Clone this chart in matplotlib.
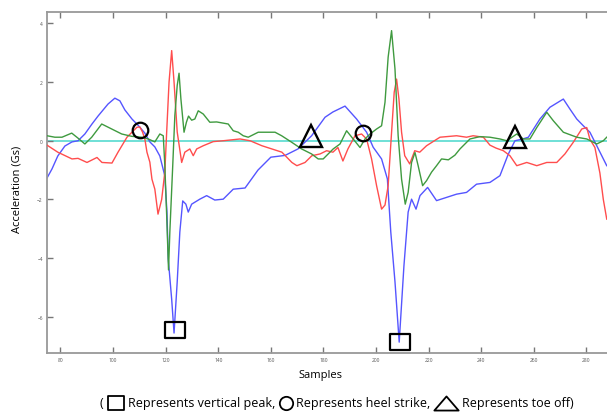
import matplotlib
matplotlib.use("Agg")
import matplotlib.pyplot as plt
from matplotlib.lines import Line2D
from matplotlib.path import Path

plt.rcParams['font.family'] = ['Open Sans', 'DejaVu Sans']

# samples / accelerations (three axes + zero line)
blue_x = [74.9, 76.8, 79.0, 81.7, 84.4, 86.7, 89.3, 92.0, 94.3, 98.1, 100.7, 102.6, 104.5,
          107.2, 109.5, 112.1, 114.0, 115.9, 117.8, 119.7, 120.5, 121.0, 122.3, 123.2, 124.4,
          125.4, 126.5, 127.7, 128.6, 129.9, 133.0, 135.6, 138.7, 141.9, 145.7, 150.2, 155.1,
          160.0, 165.4, 170.3, 175.5, 180.6, 183.6, 188.2, 192.6, 196.4, 198.9, 202.1, 204.3,
          205.6, 207.2, 208.8, 210.6, 212.2, 213.5, 215.2, 216.7, 219.6, 223.0, 226.8, 230.6,
          234.4, 238.2, 243.3, 247.1, 250.3, 252.8, 255.4, 257.9, 262.3, 266.1, 271.2, 273.7,
          276.3, 278.8, 281.3, 283.9, 287.7]
blue_y = [-1.27, -0.96, -0.52, -0.18, -0.04, 0.0, 0.23, 0.57, 0.84, 1.25, 1.45, 1.36, 1.05,
          0.74, 0.53, 0.26, -0.04, -0.21, -0.52, -1.20, -2.43, -4.03, -5.40, -6.55, -4.81,
          -3.11, -2.05, -2.16, -2.43, -2.16, -1.99, -1.87, -2.02, -1.99, -1.65, -1.61, -1.00,
          -0.56, -0.50, -0.28, 0.17, 0.80, 0.98, 1.18, 0.74, 0.29, -0.22, -0.62, -1.30,
          -3.11, -4.81, -6.86, -4.26, -2.43, -1.99, -2.33, -1.87, -1.59, -2.04, -1.93, -1.82,
          -1.76, -1.48, -1.42, -1.19, -0.45, 0.0, 0.05, 0.12, 0.74, 1.14, 1.42, 1.08,
          0.74, 0.51, 0.29, -0.17, -0.85]

red_x = [74.9, 79.0, 84.4, 86.7, 90.1, 93.9, 95.8, 99.6, 101.9, 105.3, 109.1, 110.2, 111.2,
         112.1, 112.9, 114.0, 114.8, 115.9, 117.1, 118.5, 119.7, 120.4, 121.3, 122.3, 123.2,
         124.4, 126.1, 127.3, 129.2, 130.5, 131.8, 134.3, 138.1, 141.9, 148.3, 152.1, 156.6,
         160.4, 164.2, 168.0, 169.9, 173.0, 175.6, 178.7, 181.2, 183.6, 185.5, 187.4, 189.3,
         192.0, 194.5, 196.4, 198.3, 200.2, 202.1, 203.4, 204.6, 205.9, 206.9, 207.8, 208.7,
         209.7, 210.9, 212.8, 214.7, 216.6, 219.2, 224.3, 230.6, 234.4, 236.9, 240.8, 243.3,
         245.6, 248.4, 250.9, 253.5, 257.3, 261.1, 264.9, 268.7, 271.8, 275.0, 278.2, 280.1,
         281.3, 283.2, 285.1, 286.4, 287.7]
red_y = [-0.15, -0.39, -0.62, -0.60, -0.74, -0.57, -0.74, -0.76, -0.39, 0.12, 0.46, 0.47, 0.30,
         0.06, -0.39, -0.73, -1.31, -1.65, -2.50, -2.00, -1.06, 0.30, 2.00, 3.07, 2.00,
         0.30, -0.74, -0.39, -0.28, -0.51, -0.28, -0.17, -0.03, 0.0, 0.06, 0.0, -0.17,
         -0.28, -0.39, -0.74, -0.85, -0.74, -0.51, -0.45, -0.34, -0.39, -0.23, -0.69, -0.28,
         0.17, 0.23, 0.06, -0.62, -1.53, -2.33, -2.19, -1.53, 0.29, 1.65, 2.10, 1.42,
         0.29, -0.51, -0.79, -0.34, -0.39, -0.17, 0.12, 0.17, 0.12, 0.17, 0.12, -0.15,
         -0.25, -0.34, -0.51, -0.85, -0.74, -0.85, -0.74, -0.74, -0.45, -0.05, 0.40, 0.45,
         0.05, -0.23, -1.10, -2.00, -2.67]

green_x = [74.9, 77.9, 80.6, 84.3, 86.8, 89.3, 91.9, 95.7, 99.5, 103.3, 107.1, 110.9, 113.4,
           115.9, 117.8, 119.1, 119.7, 120.4, 121.1, 121.6, 122.7, 123.5, 124.4, 125.1, 125.8,
           127.0, 127.9, 128.7, 129.9, 131.1, 132.4, 134.3, 136.8, 139.4, 141.9, 143.8, 145.7,
           147.6, 149.5, 151.4, 155.2, 159.0, 161.6, 164.1, 167.9, 171.7, 175.5, 178.0, 179.9,
           183.7, 186.3, 188.8, 191.3, 193.9, 195.8, 197.7, 200.2, 202.1, 203.4, 204.6, 205.9,
           207.2, 208.4, 209.7, 211.1, 212.2, 213.5, 214.8, 216.0, 217.7, 219.2, 221.1, 223.0,
           224.9, 227.5, 230.0, 231.9, 235.7, 239.5, 243.3, 247.1, 249.7, 253.5, 256.0, 258.5,
           261.1, 264.9, 267.4, 271.2, 276.3, 280.1, 283.9, 286.4, 287.7]
green_y = [0.17, 0.12, 0.12, 0.26, 0.08, -0.11, 0.12, 0.57, 0.40, 0.23, 0.15, 0.12, 0.06,
           -0.04, 0.23, 0.17, -0.85, -2.55, -4.40, -3.11, -0.85, 0.85, 1.88, 2.30, 1.43,
           0.29, 0.63, 0.84, 0.70, 0.74, 1.02, 0.91, 0.63, 0.64, 0.60, 0.57, 0.34,
           0.29, 0.17, 0.12, 0.29, 0.29, 0.29, 0.17, -0.05, -0.28, -0.45, -0.62, -0.62,
           -0.28, -0.11, 0.34, 0.06, -0.23, 0.06, 0.23, 0.40, 0.51, 1.31, 2.85, 3.75,
           2.44, 0.17, -1.31, -2.16, -1.76, -0.74, -0.40, -0.85, -1.53, -1.36, -1.07, -0.85,
           -0.62, -0.65, -0.49, -0.28, 0.06, 0.14, 0.12, 0.06, 0.0, 0.23, 0.06, 0.06,
           0.45, 0.97, 0.68, 0.29, 0.12, 0.06, -0.11, 0.0, 0.12]

zero_x = [74.9, 288.0]
zero_y = [0.0, 0.0]

# event markers
peak_x = [123.5, 209.1]
peak_y = [-6.45, -6.84]
heel_x = [110.2, 195.1]
heel_y = [0.38, 0.25]
toe_x = [175.2, 252.9]
toe_y = [0.17, 0.14]

x_ticks = list(range(80, 300, 20))
y_ticks = [-6, -4, -2, 0, 2, 4]

rect_marker = Path([(-1, -0.84), (1, -0.84), (1, 0.84), (-1, 0.84), (-1, -0.84)],
                   [Path.MOVETO, Path.LINETO, Path.LINETO, Path.LINETO, Path.CLOSEPOLY])
flat_tri = Path([(-1, -0.58), (1, -0.58), (0, 0.58), (-1, -0.58)],
                [Path.MOVETO, Path.LINETO, Path.LINETO, Path.CLOSEPOLY])

W, H = 607, 414
fig = plt.figure(figsize=(W / 100, H / 100), dpi=100)
ax = fig.add_axes([47 / W, 60 / H, 560 / W, 341 / H])

ax.plot(zero_x, zero_y, color="#6fe0d6", lw=1.4, zorder=1)
ax.plot(blue_x, blue_y, color="#5555ff", lw=1.0, zorder=2)
ax.plot(red_x, red_y, color="#ff4d4d", lw=1.0, zorder=3)
ax.plot(green_x, green_y, color="#3f9a3f", lw=1.0, zorder=4)

mk = dict(ls="none", mfc="none", mec="black", zorder=5)
ax.plot(peak_x, peak_y, marker=rect_marker, ms=14.5, mew=1.6, **mk)
ax.plot(heel_x, heel_y, marker="o", ms=11.2, mew=1.6, **mk)
ax.plot(toe_x, toe_y, marker="^", ms=15.5, mew=1.7, **mk)

ax.set_xlim(74.9, 287.8)
ax.set_ylim(-7.23, 4.385)
ax.set_xticks(x_ticks)
ax.set_yticks(y_ticks)
ax.tick_params(direction="in", length=4, width=1, color="#777777", labelsize=3.5,
               labelcolor="#555555", top=True, pad=3)
ax.spines["right"].set_visible(False)
for s in ["left", "bottom", "top"]:
    ax.spines[s].set_color("#999999")
    ax.spines[s].set_linewidth(1.3)

fig.text(17 / W, 1 - 189 / H, "Acceleration (Gs)", rotation=90, ha="center", va="center", fontsize=8)
fig.text(320 / W, 1 - 376 / H, "Samples", ha="center", va="center", fontsize=8)

# caption with drawn symbols
caption = [("text", "("), ("sym", rect_marker, 11.5, 18), ("text", "Represents vertical peak,"),
           ("sym", "o", 9.6, 15), ("text", "Represents heel strike,"),
           ("sym", flat_tri, 17.5, 26), ("text", "Represents toe off)")]
renderer = fig.canvas.get_renderer()
cx = 100.0
cy = 1 - 404 / H
for item in caption:
    if item[0] == "text":
        t = fig.text(cx / W, cy, item[1], ha="left", va="center", fontsize=9)
        cx += t.get_window_extent(renderer).width + 3
    else:
        _, m, size, wpx = item
        fig.add_artist(Line2D([(cx + wpx / 2) / W], [cy], transform=fig.transFigure, marker=m,
                              ms=size, mfc="none", mec="black", mew=1.3, ls="none"))
        cx += wpx + 3

fig.savefig("out.png", dpi=100)
